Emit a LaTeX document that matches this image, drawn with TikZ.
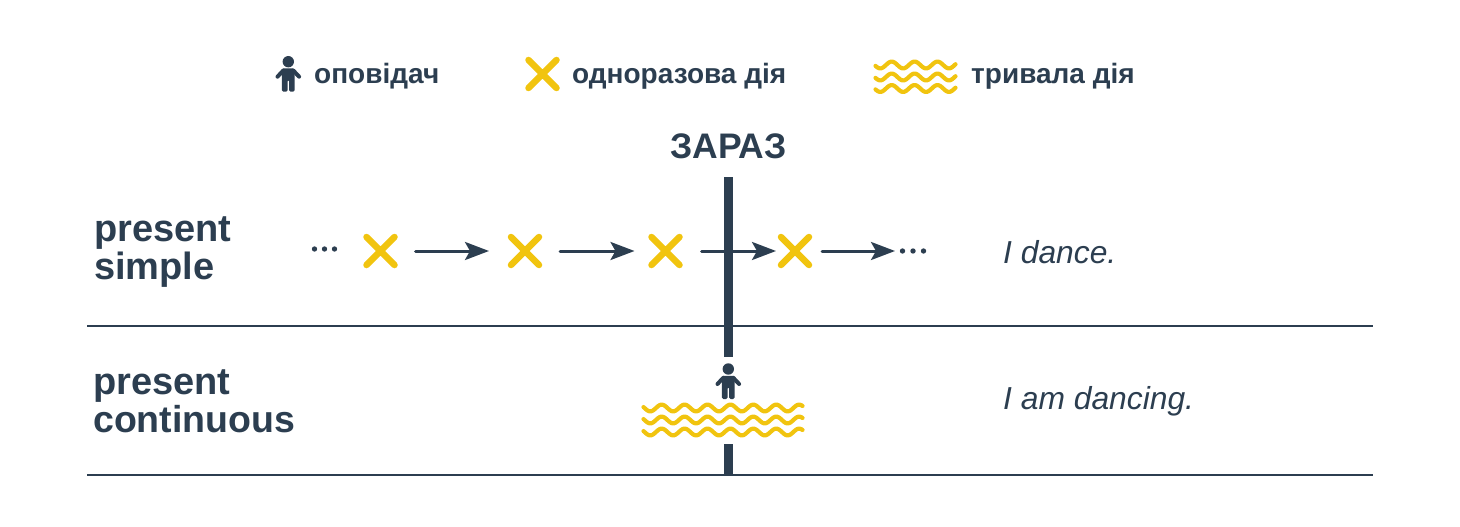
\documentclass[tikz,border=0pt]{standalone}
\usepackage{fontspec}
\setmainfont{Liberation Sans}
\usetikzlibrary{arrows.meta,shapes.misc}
\definecolor{ink}{HTML}{2C3E50}
\definecolor{sun}{HTML}{F1C40F}
\newcommand{\fs}[1]{\fontsize{#1}{#1}\selectfont}
\tikzset{
  x=1pt,y=-1pt,
  crossmark/.style={cross out,draw=sun,line width=6.5pt,line cap=round,minimum size=28pt,inner sep=0pt,outer sep=0pt},
  flow/.style={draw=ink,line width=3pt,line cap=round,-{Stealth[length=24pt,width=18pt,inset=5pt]}},
  rule/.style={draw=ink,line width=1.4pt},
  bar/.style={draw=ink,line width=9pt},
  wavy/.style={draw=sun,line width=4.2pt,line cap=round,line join=round},
  dotmark/.style={circle,fill=ink,inner sep=0pt,minimum size=5.4pt},
  tense/.style={anchor=base west,text=ink,font=\fs{38}\bfseries,inner sep=0pt},
  legendtext/.style={anchor=base west,text=ink,font=\fs{28}\bfseries,inner sep=0pt},
  sample/.style={anchor=base west,text=ink,font=\fs{31.8}\itshape,inner sep=0pt},
  person/.pic={
    \fill[ink] (0,0) circle (5.7);
    \fill[ink,rounded corners=1.5] (-6.4,6.8) -- (6.4,6.8) -- (6.4,30) -- (0.7,30) -- (0.7,18) -- (-0.7,18) -- (-0.7,30) -- (-6.4,30) -- cycle;
    \draw[ink,line width=4pt,line cap=round] (-5,8.8) -- (-10.8,15);
    \draw[ink,line width=4pt,line cap=round] (5,8.8) -- (10.8,15);
  }
}
\newcommand{\wave}[4]{% x0, x1, yc, first peak
  \draw[wavy] plot[domain=#1:#2,samples=120,smooth] (\x,{#3-3.4*cos((\x-#4)/22.9*360)});}
\begin{document}
\begin{tikzpicture}
\useasboundingbox (0,0) rectangle (1460,527);
% legend
\pic at (288.3,61.7) {person};
\node[legendtext] (l1) at (314,84) {оповідач};
\node[crossmark] (lx) at (542.5,74) {};
\node[legendtext] (l2) at (572,84) {одноразова дія};
\wave{875.5}{955.5}{65}{891.7}
\wave{875.5}{955.5}{77}{891.7}
\wave{875.5}{955.5}{88.5}{891.7}
\node[legendtext] (l3) at (971,84) {тривала дія};
% axis
\node[anchor=base,text=ink,font=\fs{35.5}\bfseries,inner sep=0pt] (now) at (728.5,158) {ЗАРАЗ};
\coordinate (bt) at (728.5,177);
\coordinate (bm) at (728.5,357);
\coordinate (bn) at (728.5,444);
\coordinate (bb) at (728.5,475);
\draw[bar] (bt) -- (bm);
\draw[bar] (bn) -- (bb);
% rules
\coordinate (r1a) at (87,326); \coordinate (r1b) at (1373,326);
\coordinate (r2a) at (87,475); \coordinate (r2b) at (1373,475);
\draw[rule] (r1a) -- (r1b);
\draw[rule] (r2a) -- (r2b);
% row 1
\node[tense] (ps1) at (94,241) {present};
\node[tense] (ps2) at (94,279) {simple};
\node[dotmark] (d1) at (314.5,249) {};
\node[dotmark] (d2) at (324.5,249) {};
\node[dotmark] (d3) at (334.5,249) {};
\node[crossmark] (x1) at (380.5,251) {};
\node[crossmark] (x2) at (525,251) {};
\node[crossmark] (x3) at (665.5,251) {};
\node[crossmark] (x4) at (795,251) {};
\node[dotmark] (e1) at (902.5,251) {};
\node[dotmark] (e2) at (913,251) {};
\node[dotmark] (e3) at (923.5,251) {};
\draw[flow,shorten <=35pt,shorten >=36pt] (x1.center) -- (x2.center);
\draw[flow,shorten <=35pt,shorten >=31pt] (x2.center) -- (x3.center);
\draw[flow,shorten <=36pt,shorten >=19pt] (x3.center) -- (x4.center);
\draw[flow,shorten <=27pt,shorten >=7.5pt] (x4.center) -- (e1.center);
\node[sample] (s1) at (1003,263) {I dance.};
% row 2
\node[tense] (pc1) at (93,394) {present};
\node[tense,font=\fs{37.5}\bfseries] (pc2) at (93,432) {continuous};
\pic at (728.3,369) {person};
\wave{643.5}{802.5}{408}{661.7}
\wave{643.5}{802.5}{420}{661.7}
\wave{643.5}{802.5}{432}{661.7}
\node[sample] (s2) at (1003,409.5) {I am dancing.};
\end{tikzpicture}
\end{document}
